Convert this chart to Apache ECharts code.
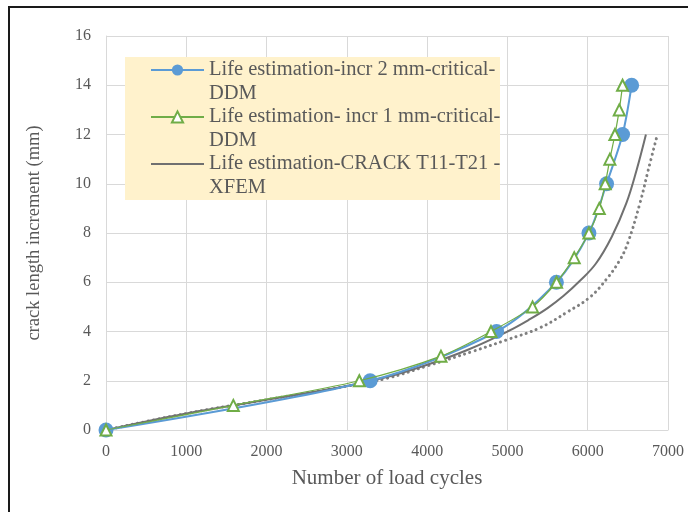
<!DOCTYPE html>
<html>
<head>
<meta charset="utf-8">
<script src="https://cdn.jsdelivr.net/npm/echarts@6/dist/echarts.min.js"></script>
<style>html,body{margin:0;padding:0;background:#fff;}#c{width:688px;height:512px;}</style>
</head>
<body>
<div id="c"></div>
<script>
// Series names
const seriesNames = [
  'Life estimation-incr 2 mm-critical-\nDDM',
  'Life estimation- incr 1 mm-critical-\nDDM',
  'Life estimation-CRACK T11-T21 -\nXFEM'
];
// incr 2 mm (blue circles)
const incr2Cycles = [0, 3290, 4865, 5610, 6015, 6235, 6434, 6547];
const incr2Crack  = [0, 2, 4, 6, 8, 10, 12, 14];
// incr 1 mm (green triangles)
const incr1Cycles = [0, 1586, 3155, 4172, 4795, 5313, 5612, 5832, 6015, 6144, 6218, 6276, 6339, 6393, 6434];
const incr1Crack  = [0, 1, 2, 3, 4, 5, 6, 7, 8, 9, 10, 11, 12, 13, 14];
// XFEM (solid gray)
const xfemCycles = [0, 500, 1000, 1500, 2000, 2500, 3000, 3500, 4000, 4500, 5000, 5280, 5500, 5700, 5900, 6100, 6300, 6480, 6610, 6725];
const xfemCrack  = [0, 0.35, 0.67, 0.95, 1.23, 1.5, 1.79, 2.15, 2.65, 3.25, 4.0, 4.5, 4.95, 5.45, 6.05, 6.75, 7.85, 9.2, 10.57, 12.0];
// unlabeled dotted curve
const dotCycles = [0, 1000, 2000, 3000, 3500, 4000, 4575, 4990, 5405, 5750, 6030, 6240, 6400, 6500, 6650, 6755, 6857];
const dotCrack  = [0, 0.67, 1.23, 1.78, 2.1, 2.6, 3.2, 3.66, 4.15, 4.8, 5.4, 6.15, 6.9, 7.6, 9.2, 10.57, 11.86];
// axes
const xTicks = [0, 1000, 2000, 3000, 4000, 5000, 6000, 7000];
const yTicks = [0, 2, 4, 6, 8, 10, 12, 14, 16];

const pairs = (xs, ys) => xs.map((x, i) => [x, ys[i]]);
const serif = "'Liberation Serif', 'Times New Roman', serif";
const txt = '#595959';
const LH = 23.5;

const chart = echarts.init(document.getElementById('c'), null, {renderer: 'canvas'});
chart.setOption({
  animation: false,
  backgroundColor: '#fff',
  graphic: [
    {type: 'rect', z: -10, shape: {x: 9, y: 7, width: 700, height: 520}, style: {fill: 'none', stroke: '#1a1a1a', lineWidth: 2}},
    {type: 'rect', z: 5, shape: {x: 125, y: 57, width: 375, height: 143}, style: {fill: '#FFF2CC'}}
  ],
  grid: {left: 106, right: 20, top: 36, bottom: 82},
  legend: {
    orient: 'vertical',
    left: 150,
    top: 70 - LH * 1.5,
    padding: 0,
    itemGap: -LH,
    itemWidth: 53,
    itemHeight: 14,
    z: 10,
    data: [
      {name: seriesNames[0]},
      {name: seriesNames[1]},
      {name: seriesNames[2], itemStyle: {color: 'rgba(0,0,0,0)', borderColor: 'rgba(0,0,0,0)'}}
    ],
    formatter: function (name) {
      return '{e| }\n' + name.split('\n').map(function (s) { return '{t|' + s + '}'; }).join('\n');
    },
    textStyle: {
      fontFamily: serif, fontSize: 20.5, color: txt, lineHeight: LH,
      rich: {
        e: {fontFamily: serif, fontSize: 20.5, lineHeight: LH, color: txt},
        t: {fontFamily: serif, fontSize: 20.5, lineHeight: LH, color: txt}
      }
    }
  },
  xAxis: {
    type: 'value', min: xTicks[0], max: xTicks[xTicks.length - 1], interval: 1000,
    name: 'Number of load cycles', nameLocation: 'middle', nameGap: 38,
    nameTextStyle: {fontFamily: serif, fontSize: 21, color: txt},
    axisLine: {show: true, lineStyle: {color: '#d9d9d9'}},
    axisTick: {show: false},
    axisLabel: {fontFamily: serif, fontSize: 16, color: txt, margin: 14, formatter: function (v) { return String(v); }},
    splitLine: {show: true, lineStyle: {color: '#d9d9d9'}}
  },
  yAxis: {
    type: 'value', min: yTicks[0], max: yTicks[yTicks.length - 1], interval: 2,
    name: 'crack length increment (mm)', nameLocation: 'middle', nameGap: 62,
    nameTextStyle: {fontFamily: serif, fontSize: 18.5, color: txt},
    axisLine: {show: true, lineStyle: {color: '#d9d9d9'}},
    axisTick: {show: false},
    axisLabel: {fontFamily: serif, fontSize: 16, color: txt, margin: 15},
    splitLine: {show: true, lineStyle: {color: '#d9d9d9'}}
  },
  series: [
    {
      name: 'dotted', type: 'line', data: pairs(dotCycles, dotCrack), smooth: 0.4,
      showSymbol: false, symbol: 'none', z: 2,
      lineStyle: {color: '#7f7f7f', width: 3, type: [0.1, 5.3], cap: 'round'}
    },
    {
      name: seriesNames[2], type: 'line', data: pairs(xfemCycles, xfemCrack), smooth: 0.4,
      showSymbol: false, symbol: 'none', z: 3, color: '#707070',
      lineStyle: {color: '#707070', width: 2}
    },
    {
      name: seriesNames[0], type: 'line', data: pairs(incr2Cycles, incr2Crack), smooth: 0.3,
      symbol: 'circle', symbolSize: 15, z: 4, color: '#5B9BD5',
      itemStyle: {color: '#5B9BD5'},
      lineStyle: {color: '#5B9BD5', width: 2}
    },
    {
      name: seriesNames[1], type: 'line', data: pairs(incr1Cycles, incr1Crack), smooth: 0.3,
      symbol: 'triangle', symbolSize: 11, z: 5, color: '#70AD47',
      itemStyle: {color: '#ffffff', borderColor: '#70AD47', borderWidth: 2},
      lineStyle: {color: '#70AD47', width: 1.25}
    }
  ]
});
</script>
</body>
</html>
